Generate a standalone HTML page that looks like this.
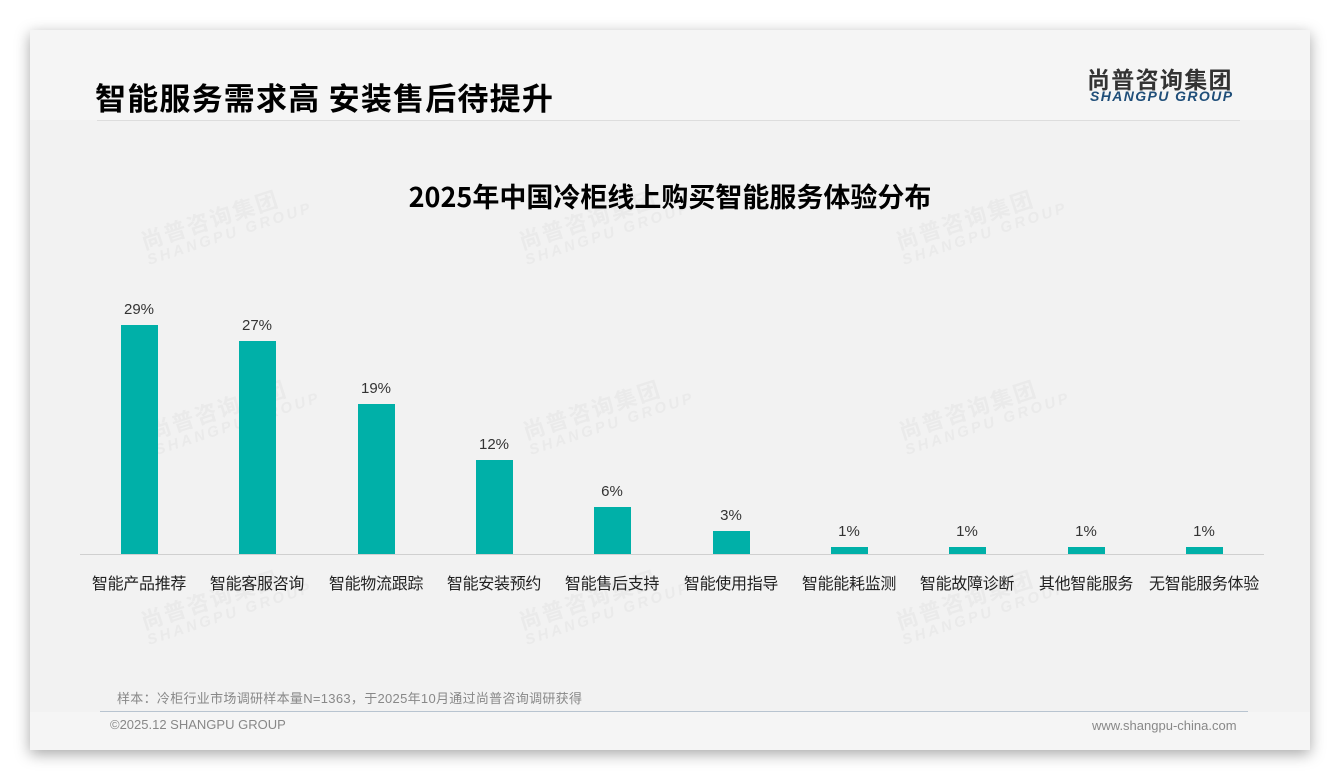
<!DOCTYPE html>
<html><head><meta charset="utf-8"><style>
*{margin:0;padding:0;box-sizing:border-box}
body{width:1340px;height:780px;background:#fff;position:relative;overflow:hidden;font-family:"Liberation Sans","Noto Sans CJK SC",sans-serif}
.card{position:absolute;left:30px;top:30px;width:1280px;height:720px;background:#f5f5f5;box-shadow:0 4px 14px rgba(0,0,0,0.35)}
.abs{position:absolute;white-space:nowrap}
.wm{position:absolute;color:#eaeaea;transform:rotate(-18deg);font-weight:bold;line-height:1}
.wm .a{font-size:22px;letter-spacing:2px}
.wm .b{font-size:15px;letter-spacing:3px;font-style:italic}
.bar{position:absolute;width:37px;background:#00b0a8}
.val{position:absolute;width:80px;text-align:center;font-size:15px;color:#333}
.lab{position:absolute;width:118px;text-align:center;font-size:16px;color:#222;top:570px;letter-spacing:-0.3px}
</style></head><body>
<div class="card"></div>
<div class="abs" style="left:30px;top:120px;width:1280px;height:592px;background:#f2f2f2"></div>

<div class="wm" style="left:140px;top:205px"><div class="a">尚普咨询集团</div><div class="b">SHANGPU GROUP</div></div>
<div class="wm" style="left:518px;top:205px"><div class="a">尚普咨询集团</div><div class="b">SHANGPU GROUP</div></div>
<div class="wm" style="left:895px;top:205px"><div class="a">尚普咨询集团</div><div class="b">SHANGPU GROUP</div></div>
<div class="wm" style="left:148px;top:395px"><div class="a">尚普咨询集团</div><div class="b">SHANGPU GROUP</div></div>
<div class="wm" style="left:522px;top:395px"><div class="a">尚普咨询集团</div><div class="b">SHANGPU GROUP</div></div>
<div class="wm" style="left:898px;top:395px"><div class="a">尚普咨询集团</div><div class="b">SHANGPU GROUP</div></div>
<div class="wm" style="left:140px;top:585px"><div class="a">尚普咨询集团</div><div class="b">SHANGPU GROUP</div></div>
<div class="wm" style="left:518px;top:585px"><div class="a">尚普咨询集团</div><div class="b">SHANGPU GROUP</div></div>
<div class="wm" style="left:895px;top:585px"><div class="a">尚普咨询集团</div><div class="b">SHANGPU GROUP</div></div>

<div class="abs" style="left:95px;top:74px;font-size:31px;font-weight:bold;color:#000;letter-spacing:1.2px;font-family:'Noto Sans CJK SC',sans-serif">智能服务需求高 安装售后待提升</div>
<div class="abs" style="left:97px;top:120px;width:1143px;height:1px;background:#ddd"></div>
<div class="abs" style="left:1087px;top:61px;font-size:23px;font-weight:bold;color:#333;letter-spacing:1.3px;font-family:'Noto Sans CJK SC',sans-serif">尚普咨询集团</div>
<div class="abs" style="left:1090px;top:88px;font-size:14px;font-weight:bold;font-style:italic;color:#1f4e79;letter-spacing:1.4px">SHANGPU GROUP</div>
<div class="abs" style="left:0;width:1340px;top:176px;text-align:center;font-size:27px;font-weight:bold;color:#000;font-family:'Noto Sans CJK SC',sans-serif">2025年中国冷柜线上购买智能服务体验分布</div>

<div class="abs" style="left:80px;top:554px;width:1184px;height:1px;background:#d0d0d0"></div>

<div class="bar" style="left:121px;top:325px;height:229px"></div><div class="val" style="left:99px;top:301px">29%</div><div class="lab" style="left:80px">智能产品推荐</div>
<div class="bar" style="left:239px;top:341px;height:213px"></div><div class="val" style="left:217px;top:317px">27%</div><div class="lab" style="left:198px">智能客服咨询</div>
<div class="bar" style="left:358px;top:404px;height:150px"></div><div class="val" style="left:336px;top:380px">19%</div><div class="lab" style="left:317px">智能物流跟踪</div>
<div class="bar" style="left:476px;top:460px;height:94px"></div><div class="val" style="left:454px;top:436px">12%</div><div class="lab" style="left:435px">智能安装预约</div>
<div class="bar" style="left:594px;top:507px;height:47px"></div><div class="val" style="left:572px;top:483px">6%</div><div class="lab" style="left:553px">智能售后支持</div>
<div class="bar" style="left:713px;top:531px;height:23px"></div><div class="val" style="left:691px;top:507px">3%</div><div class="lab" style="left:672px">智能使用指导</div>
<div class="bar" style="left:831px;top:547px;height:7px"></div><div class="val" style="left:809px;top:523px">1%</div><div class="lab" style="left:790px">智能能耗监测</div>
<div class="bar" style="left:949px;top:547px;height:7px"></div><div class="val" style="left:927px;top:523px">1%</div><div class="lab" style="left:908px">智能故障诊断</div>
<div class="bar" style="left:1068px;top:547px;height:7px"></div><div class="val" style="left:1046px;top:523px">1%</div><div class="lab" style="left:1027px">其他智能服务</div>
<div class="bar" style="left:1186px;top:547px;height:7px"></div><div class="val" style="left:1164px;top:523px">1%</div><div class="lab" style="left:1145px">无智能服务体验</div>

<div class="abs" style="left:117px;top:688px;font-size:13px;color:#888;letter-spacing:0.3px">样本：冷柜行业市场调研样本量N=1363，于2025年10月通过尚普咨询调研获得</div>
<div class="abs" style="left:100px;top:711px;width:1148px;height:1px;background:#b8c4d0"></div>
<div class="abs" style="left:110px;top:717px;font-size:13px;color:#888">©2025.12 SHANGPU GROUP</div>
<div class="abs" style="left:1092px;top:718px;font-size:13px;color:#888">www.shangpu-china.com</div>
</body></html>
